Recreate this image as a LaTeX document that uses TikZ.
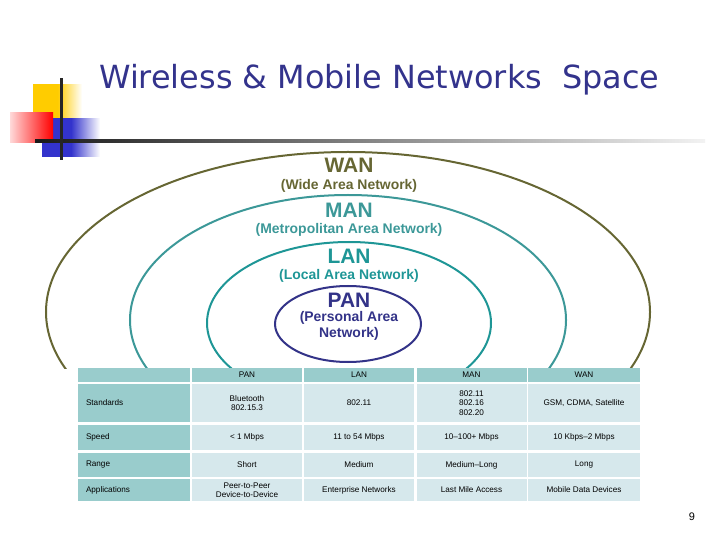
\documentclass[tikz,border=0pt]{standalone}
\usepackage{fontspec}
\setmainfont{Liberation Sans}
\newfontfamily\titlefont{DejaVu Sans}
\definecolor{navy}{RGB}{51,51,140}
\definecolor{wanc}{RGB}{102,102,51}
\definecolor{manc}{RGB}{60,152,152}
\definecolor{lanc}{RGB}{30,150,150}
\definecolor{panc}{RGB}{51,51,136}
\definecolor{headc}{RGB}{153,204,204}
\definecolor{cellc}{RGB}{214,232,236}
\definecolor{yel}{RGB}{255,204,0}
\definecolor{blu}{RGB}{51,51,204}
\tikzset{
  hcell/.style={fill=headc, minimum height=#1, inner sep=0pt, font=\fontsize{8.2}{9.5}\selectfont},
  dcell/.style={fill=cellc, minimum height=#1, inner sep=0pt, font=\fontsize{8.2}{9.5}\selectfont, align=center},
  lab/.style={font=\bfseries\fontsize{21}{23}\selectfont},
  sublab/.style={font=\bfseries\fontsize{14}{15.5}\selectfont, align=center},
  ring/.style={line width=2bp},
}
\begin{document}
\begin{tikzpicture}[x=1bp,y=-1bp]
\useasboundingbox (0,0) rectangle (720,540);
% decoration
\shade[left color=yel, right color=white, middle color=yel] (33,85) rectangle (82,118);
\shade[left color=blu, right color=white, middle color=blu] (42,119) rectangle (100,157);
\shade[left color=red!15, right color=red] (10,113) rectangle (53,143);
\shade[left color=black!90, right color=black!5] (35,139.5) rectangle (705,142.5);
\fill[black!85] (59.5,78) rectangle (62.5,160);
% title
\node[anchor=base west, text=navy, inner sep=0pt, font=\titlefont\fontsize{32}{35}\selectfont] (title) at (99,89) {Wireless \& Mobile Networks\ \ Space};
% ellipses
\begin{scope}
\clip (0,0) rectangle (720,368);
\draw[wanc, ring] (348,312) ellipse [x radius=302bp, y radius=160bp];
\draw[manc, ring] (348,320) ellipse [x radius=218bp, y radius=125bp];
\draw[lanc, ring] (349,323) ellipse [x radius=142bp, y radius=81bp];
\end{scope}
\draw[panc, ring] (348,324) ellipse [x radius=73bp, y radius=38bp];
\node[lab, text=wanc] (wan) at (349,165) {WAN};
\node[sublab, text=wanc] (wansub) at (349,186) {(Wide Area Network)};
\node[lab, text=manc] (man) at (349,210) {MAN};
\node[sublab, text=manc] (mansub) at (349,230) {(Metropolitan Area Network)};
\node[lab, text=lanc] (lan) at (349,256) {LAN};
\node[sublab, text=lanc] (lansub) at (349,276) {(Local Area Network)};
\node[lab, text=panc] (pan) at (349,300) {PAN};
\node[sublab, text=panc] (pansub) at (349,326) {(Personal Area\\Network)};
% table
% header row 368-382
\node[hcell=14bp, minimum width=112bp] (h0) at (134,375) {};
\node[hcell=14bp, minimum width=110bp] (h1) at (247,375) {PAN};
\node[hcell=14bp, minimum width=110bp] (h2) at (359,375) {LAN};
\node[hcell=14bp, minimum width=110bp] (h3) at (471.5,375) {MAN};
\node[hcell=14bp, minimum width=112bp] (h4) at (584,375) {WAN};
% standards 384-422
\node[hcell=38bp, minimum width=112bp, text width=96bp, align=left] (s0) at (134,403) {Standards};
\node[dcell=38bp, minimum width=110bp] (s1) at (247,403) {Bluetooth\\802.15.3};
\node[dcell=38bp, minimum width=110bp] (s2) at (359,403) {802.11};
\node[dcell=38bp, minimum width=110bp] (s3) at (471.5,403) {802.11\\802.16\\802.20};
\node[dcell=38bp, minimum width=112bp] (s4) at (584,403) {GSM, CDMA, Satellite};
% speed 425-450
\node[hcell=25bp, minimum width=112bp, text width=96bp, align=left] (p0) at (134,437.5) {Speed};
\node[dcell=25bp, minimum width=110bp] (p1) at (247,437.5) {< 1 Mbps};
\node[dcell=25bp, minimum width=110bp] (p2) at (359,437.5) {11 to 54 Mbps};
\node[dcell=25bp, minimum width=110bp] (p3) at (471.5,437.5) {10--100+ Mbps};
\node[dcell=25bp, minimum width=112bp] (p4) at (584,437.5) {10 Kbps--2 Mbps};
% range 453-477
\node[hcell=24bp, minimum width=112bp, text width=96bp, align=left] (r0) at (134,465) {Range};
\node[dcell=24bp, minimum width=110bp] (r1) at (247,465) {Short};
\node[dcell=24bp, minimum width=110bp] (r2) at (359,465) {Medium};
\node[dcell=24bp, minimum width=110bp] (r3) at (471.5,465) {Medium--Long};
\node[dcell=24bp, minimum width=112bp] (r4) at (584,465) {Long};
% applications 479-501
\node[hcell=22bp, minimum width=112bp, text width=96bp, align=left] (a0) at (134,490) {Applications};
\node[dcell=22bp, minimum width=110bp, font=\fontsize{8.2}{8.8}\selectfont] (a1) at (247,490) {Peer-to-Peer\\Device-to-Device};
\node[dcell=22bp, minimum width=110bp] (a2) at (359,490) {Enterprise Networks};
\node[dcell=22bp, minimum width=110bp] (a3) at (471.5,490) {Last Mile Access};
\node[dcell=22bp, minimum width=112bp] (a4) at (584,490) {Mobile Data Devices};
% page number
\node[font=\fontsize{11}{13}\selectfont] (num) at (692,517) {9};
\end{tikzpicture}
\end{document}
